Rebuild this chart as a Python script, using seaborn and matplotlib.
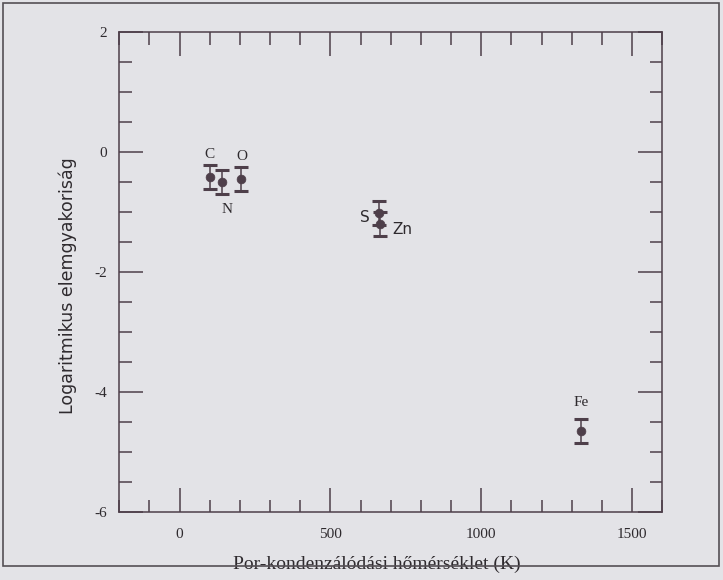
import numpy as np
import pandas as pd
import matplotlib
matplotlib.use("Agg")
import matplotlib.pyplot as plt
from matplotlib.ticker import MultipleLocator
import seaborn as sns

# data
elements = ["C", "N", "O", "S", "Zn", "Fe"]
temp_k = [100, 140, 205, 660, 665, 1330]
log_abund = [-0.42, -0.50, -0.45, -1.02, -1.21, -4.65]
err = [0.2, 0.2, 0.2, 0.2, 0.2, 0.2]

df = pd.DataFrame({"elem": elements, "T": temp_k, "A": log_abund, "err": err})

ink = "#4e3f4a"
paper = "#e3e3e7"

sns.set_theme(style="ticks")
plt.rcParams["font.family"] = ["Liberation Serif", "DejaVu Serif"]
plt.rcParams["axes.unicode_minus"] = False

fig = plt.figure(figsize=(7.23, 5.8), dpi=100, facecolor=paper)
ax = fig.add_axes([0.165, 0.118, 0.751, 0.827])
ax.set_facecolor(paper)

#error bars first, dots on top
ax.errorbar(df["T"], df["A"], yerr=df["err"], fmt="none", ecolor=ink,
            elinewidth=1.1, capsize=5, capthick=2.2, zorder=2)
sns.scatterplot(data=df, x="T", y="A", ax=ax, color=ink, s=40,
                edgecolor=ink, linewidth=0.5, zorder=3, legend=False)

# element labels (offsets in points)
offsets = {"C": (0, 16, "serif"), "N": (4, -20, "serif"), "O": (0, 16, "serif"),
           "S": (-10, -3, "sans"), "Zn": (16, -4, "sans"), "Fe": (0, 20, "serif")}
for _, row in df.iterrows():
    dx, dy, fam = offsets[row["elem"]]
    family = ["Liberation Serif"] if fam == "serif" else ["DejaVu Sans"]
    ax.annotate(row["elem"], (row["T"], row["A"]), xytext=(dx, dy),
                textcoords="offset points", ha="center", va="center",
                fontsize=11, color="#2e2a2e", family=family)

ax.set_xlim(-200, 1600)
ax.set_ylim(-6, 2)
ax.xaxis.set_major_locator(MultipleLocator(500))
ax.xaxis.set_minor_locator(MultipleLocator(100))
ax.yaxis.set_major_locator(MultipleLocator(2))
ax.yaxis.set_minor_locator(MultipleLocator(0.5))

ax.tick_params(which="both", direction="in", top=True, right=True,
               color=ink, width=1.1, labelsize=11, labelcolor="#2e2a2e")
ax.tick_params(which="major", length=17)
ax.tick_params(which="minor", length=9)
ax.tick_params(axis="x", which="major", pad=12)
ax.tick_params(axis="y", which="major", pad=9)
for sp in ax.spines.values():
    sp.set_color(ink)
    sp.set_linewidth(1.1)

ax.set_xlabel("Por-kondenzálódási hőmérséklet (K)", fontsize=14,
              color="#2e2a2e")
ax.xaxis.set_label_coords(0.475, -0.092)
ax.set_ylabel("Logaritmikus elemgyakoriság", fontsize=12.5, color="#2e2a2e",
              family=["DejaVu Sans"])
ax.yaxis.set_label_coords(-0.078, 0.47)

# scan border
fig.patches.append(plt.Rectangle((0.004, 0.025), 0.99, 0.97, transform=fig.transFigure,
                                 fill=False, edgecolor="#555055", linewidth=1.2))

fig.savefig("out.png", dpi=100, facecolor=paper)
